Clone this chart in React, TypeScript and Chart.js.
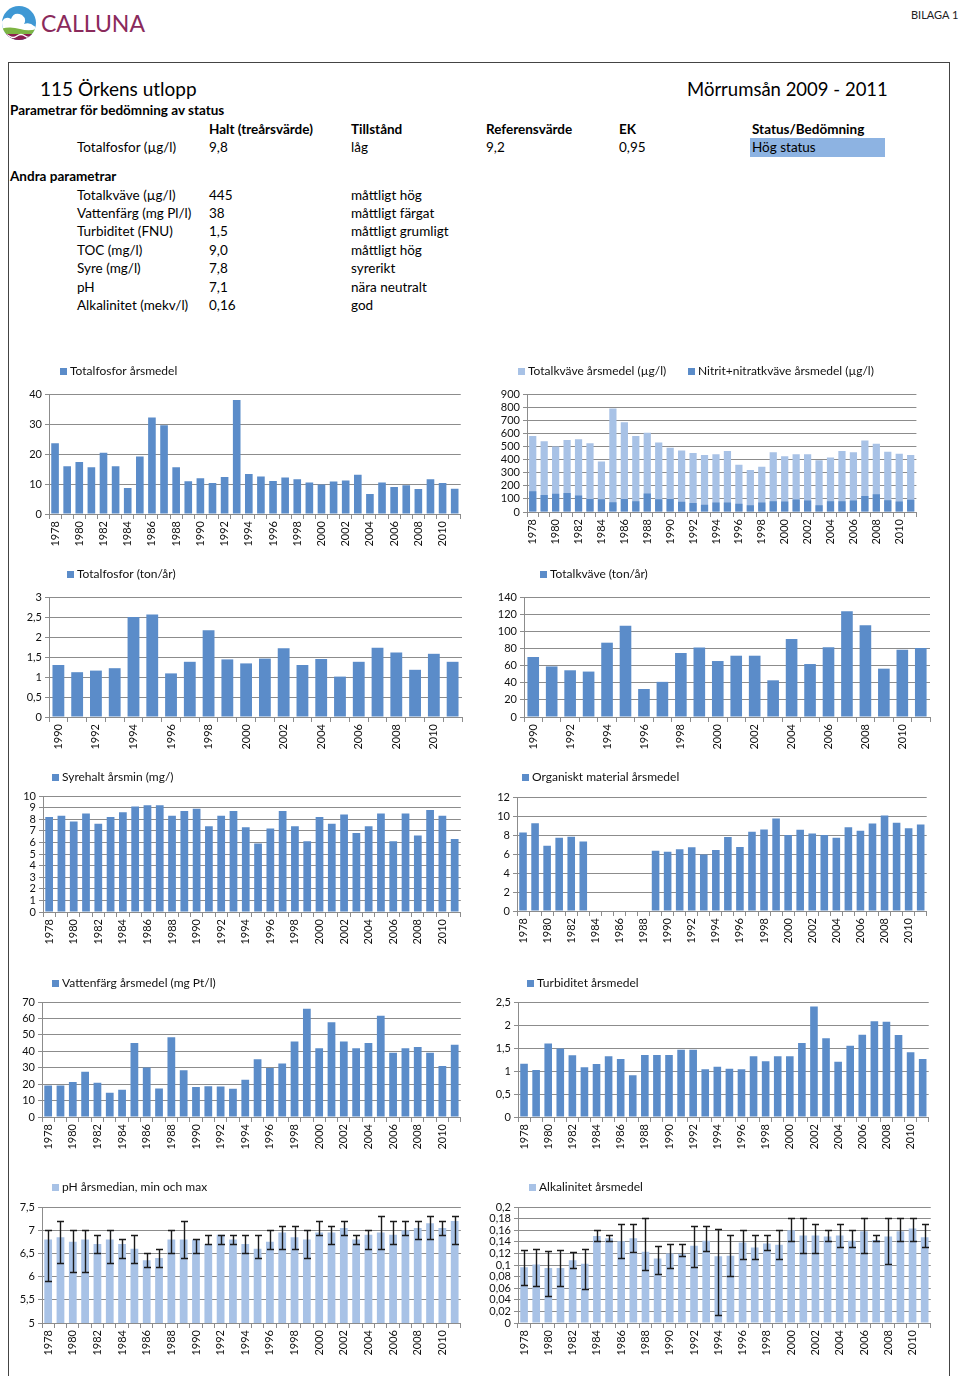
import React, { useEffect, useRef } from "react";
import { Chart, registerables } from "chart.js";
Chart.register(...registerables);

const FONT = "Lato, 'Open Sans', sans-serif";

const years78 = ["1978","1979","1980","1981","1982","1983","1984","1985","1986","1987","1988","1989","1990","1991","1992","1993","1994","1995","1996","1997","1998","1999","2000","2001","2002","2003","2004","2005","2006","2007","2008","2009","2010","2011"];
const years90 = ["1990","1991","1992","1993","1994","1995","1996","1997","1998","1999","2000","2001","2002","2003","2004","2005","2006","2007","2008","2009","2010","2011"];

const totalfosforMedel = [23.6,15.9,17.3,15.6,20.4,15.9,8.7,19.2,32.2,29.6,15.6,10.9,11.9,10.3,12.3,38.0,13.3,12.5,11.0,12.2,11.6,10.5,9.8,10.8,11.2,13.1,6.7,10.5,9.0,9.6,8.3,11.6,10.3,8.4];
const totalkvaveMedel = [580,540,500,550,555,525,385,790,685,580,605,530,490,470,450,435,440,465,360,320,345,455,425,440,440,395,415,465,455,545,520,460,445,435];
const nitritNitrat = [158,130,140,145,125,100,98,75,100,82,142,97,100,78,68,55,72,72,62,52,72,82,80,95,88,52,82,82,88,122,135,90,80,93];
const totalfosforTon = [1.30,1.12,1.16,1.22,2.50,2.56,1.09,1.38,2.17,1.44,1.34,1.46,1.72,1.30,1.45,1.01,1.38,1.73,1.61,1.18,1.58,1.38];
const totalkvaveTon = [70,59,54.5,53,86.7,106.5,32.7,41,74.7,81,65.3,71.5,71.5,42.8,91,61.8,81.3,123.3,107,56.4,78.6,80.5];
const syrehaltMin = [8.2,8.3,7.8,8.5,7.6,8.2,8.6,9.1,9.2,9.2,8.3,8.7,8.9,7.4,8.3,8.7,7.3,5.9,7.2,8.7,7.4,6.1,8.2,7.6,8.4,6.8,7.4,8.5,6.1,8.5,6.6,8.8,8.3,6.3];
const organisktMedel = [8.27,9.24,6.87,7.71,7.81,7.32,null,null,null,null,null,6.35,6.24,6.49,6.70,5.96,6.42,7.78,6.73,8.34,8.58,9.73,7.99,8.55,8.16,7.99,7.71,8.82,8.44,9.21,10.05,9.28,8.72,9.10];
const vattenfargMedel = [19.1,19.1,21.3,27.6,20.9,14.8,16.6,45.0,30.2,17.4,48.5,28.4,18.3,18.7,18.5,17.2,22.7,35.1,29.8,32.5,46.0,65.9,41.8,57.6,46.0,41.8,45.0,61.7,39.1,41.8,42.6,39.1,31.0,44.0];
const turbiditetMedel = [1.16,1.02,1.60,1.49,1.34,1.08,1.15,1.32,1.26,0.91,1.35,1.35,1.35,1.46,1.46,1.04,1.09,1.05,1.04,1.32,1.21,1.32,1.32,1.61,2.40,1.71,1.20,1.55,1.79,2.08,2.07,1.78,1.41,1.26];
const phMedian = [6.8,6.85,6.75,6.8,6.7,6.8,6.7,6.6,6.35,6.4,6.8,6.8,6.8,6.7,6.9,6.8,6.7,6.6,6.75,6.95,6.85,6.8,6.95,6.95,7.05,6.8,6.9,6.95,6.9,7.0,7.05,7.15,7.05,7.2];
const phMin = [5.9,6.3,6.1,6.1,6.5,6.3,6.4,6.3,6.2,6.2,6.5,6.4,6.5,6.7,6.7,6.7,6.5,6.4,6.6,6.6,6.6,6.4,6.9,6.7,6.9,6.7,6.6,6.6,6.7,6.9,6.8,6.8,6.9,6.7];
const phMax = [7.0,7.2,7.0,7.0,6.9,7.0,6.8,6.9,6.5,6.6,7.0,7.2,6.8,6.9,6.9,6.9,6.9,6.9,7.0,7.1,7.1,7.0,7.2,7.1,7.2,6.9,7.0,7.3,7.2,7.2,7.2,7.3,7.2,7.3];
const alkMedel = [0.096,0.101,0.095,0.095,0.108,0.102,0.150,0.146,0.141,0.146,0.123,0.111,0.120,0.119,0.133,0.142,0.115,0.116,0.139,0.130,0.137,0.135,0.160,0.151,0.151,0.149,0.151,0.142,0.158,0.143,0.149,0.158,0.163,0.148];
const alkMin = [0.066,0.063,0.046,0.064,0.095,0.059,0.142,0.142,0.112,0.122,0.092,0.085,0.095,0.115,0.096,0.125,0.014,0.081,0.111,0.111,0.126,0.111,0.141,0.121,0.121,0.141,0.131,0.131,0.121,0.141,0.101,0.141,0.141,0.131];
const alkMax = [0.126,0.127,0.124,0.126,0.123,0.127,0.161,0.152,0.171,0.171,0.181,0.133,0.137,0.137,0.167,0.167,0.162,0.152,0.160,0.152,0.152,0.161,0.181,0.181,0.171,0.161,0.171,0.161,0.181,0.152,0.181,0.181,0.181,0.171];

const ticksTfMedel = [0,10,20,30,40];
const ticksTkMedel = [0,100,200,300,400,500,600,700,800,900];
const ticksTfTon = [0,0.5,1,1.5,2,2.5,3];
const ticksTkTon = [0,20,40,60,80,100,120,140];
const ticksSyre = [0,1,2,3,4,5,6,7,8,9,10];
const ticksOrg = [0,2,4,6,8,10,12];
const ticksVatten = [0,10,20,30,40,50,60,70];
const ticksTurb = [0,0.5,1,1.5,2,2.5];
const ticksPh = [5,5.5,6,6.5,7,7.5];
const ticksAlk = [0,0.02,0.04,0.06,0.08,0.1,0.12,0.14,0.16,0.18,0.2];

const BLUE = "#5b8cc9";
const LIGHT = "#a8c2e6";
const GRID = "#8c8c8c";

const PADL = 46, PADT = 42, PADR = 8, PADB = 48;

const fmt = (v: number) => String(v).replace(".", ",");

const whiskerPlugin = {
  id: "whiskers",
  afterDatasetsDraw(chart: any, _a: any, opts: any) {
    if (!opts || !opts.min) return;
    const meta = chart.getDatasetMeta(0);
    const ys = chart.scales.y;
    const ctx = chart.ctx;
    ctx.save();
    ctx.strokeStyle = "#1a1a1a";
    ctx.lineWidth = 1.4;
    meta.data.forEach((bar: any, i: number) => {
      const lo = opts.min[i], hi = opts.max[i];
      if (lo == null || hi == null) return;
      const x = Math.round(bar.x) + 0.5;
      const y1 = Math.round(ys.getPixelForValue(hi)) + 0.5;
      const y2 = Math.round(ys.getPixelForValue(lo)) + 0.5;
      ctx.beginPath();
      ctx.moveTo(x, y1); ctx.lineTo(x, y2);
      ctx.moveTo(x - 3.5, y1); ctx.lineTo(x + 3.5, y1);
      ctx.moveTo(x - 3.5, y2); ctx.lineTo(x + 3.5, y2);
      ctx.stroke();
    });
    ctx.restore();
  },
};

const boxLegendPlugin = {
  id: "boxLegend",
  afterDraw(chart: any, _a: any, opts: any) {
    const items = (opts && opts.items) || [];
    const ctx = chart.ctx;
    ctx.save();
    ctx.font = `12px ${FONT}`;
    ctx.textBaseline = "middle";
    items.forEach((it: any, i: number) => {
      const ds = chart.data.datasets[i];
      ctx.fillStyle = ds.backgroundColor;
      ctx.fillRect(it.x, Math.round(it.y - 3.5), 7, 7);
      ctx.fillStyle = "#111";
      ctx.fillText(ds.label, it.x + 10, it.y + 0.5);
    });
    ctx.restore();
  },
};

type Spec = {
  plot: [number, number, number, number];
  labels: string[];
  datasets: any[];
  ticks: number[];
  legend: [number, number][];
  whisk?: { min: number[]; max: number[] };
};

function BarChart({ spec }: { spec: Spec }) {
  const ref = useRef<HTMLCanvasElement | null>(null);
  const [x1, y1, x2, y2] = spec.plot;
  const left = x1 - PADL, top = y1 - PADT;
  const width = x2 - x1 + PADL + PADR, height = y2 - y1 + PADT + PADB;
  useEffect(() => {
    if (!ref.current) return;
    const labels = spec.labels;
    const tk = spec.ticks;
    const chart = new Chart(ref.current, {
      type: "bar",
      data: { labels, datasets: spec.datasets },
      plugins: [whiskerPlugin as any, boxLegendPlugin as any],
      options: {
        responsive: false,
        animation: false,
        layout: { padding: { left: 0, top: PADT, right: PADR, bottom: 0 } },
        plugins: {
          legend: { display: false },
          tooltip: { enabled: false },
          boxLegend: { items: spec.legend.map(([lx, ly]) => ({ x: lx - left, y: ly - top })) },
          whiskers: spec.whisk ? { min: spec.whisk.min, max: spec.whisk.max } : {},
        } as any,
        scales: {
          x: {
            grid: { display: true, drawOnChartArea: false, drawTicks: true, tickLength: 5, color: GRID, offset: true },
            border: { display: true, color: GRID },
            ticks: {
              autoSkip: false, maxRotation: 90, minRotation: 90, padding: 2, color: "#111",
              font: { family: FONT, size: 11 },
              callback: (_v: any, i: number) => (i % 2 === 0 ? labels[i] : ""),
            },
            afterFit: (s: any) => { s.height = PADB; },
          },
          y: {
            min: tk[0], max: tk[tk.length - 1],
            grid: { color: GRID, tickLength: 4 },
            border: { display: true, color: GRID },
            ticks: { autoSkip: false, color: "#111", padding: 3, font: { family: FONT, size: 11 }, callback: (v: any) => fmt(v) },
            afterBuildTicks: (s: any) => { s.ticks = tk.map((v) => ({ value: v })); },
            afterFit: (s: any) => { s.width = PADL; },
          },
        },
      } as any,
    });
    return () => chart.destroy();
  }, []);
  return (
    <canvas ref={ref} width={width} height={height}
      style={{ position: "absolute", left, top, width, height }} />
  );
}

const bar = (label: string, data: any[], color: string, extra: any = {}) => ({
  label, data, backgroundColor: color, barPercentage: 0.63, categoryPercentage: 1, borderWidth: 0, ...extra,
});

const specs: Spec[] = [
  { plot: [49, 394, 462, 514], labels: years78, ticks: ticksTfMedel, legend: [[60, 371]],
    datasets: [bar("Totalfosfor årsmedel", totalfosforMedel, BLUE)] },
  { plot: [527, 394, 918, 512], labels: years78, ticks: ticksTkMedel, legend: [[518, 371], [688, 371]],
    datasets: [
      bar("Totalkväve årsmedel (µg/l)", totalkvaveMedel, LIGHT, { grouped: false, order: 2 }),
      bar("Nitrit+nitratkväve årsmedel (µg/l)", nitritNitrat, BLUE, { grouped: false, order: 1 }),
    ] },
  { plot: [49, 597, 462, 717], labels: years90, ticks: ticksTfTon, legend: [[67, 574]],
    datasets: [bar("Totalfosfor (ton/år)", totalfosforTon, BLUE)] },
  { plot: [524, 597, 930, 717], labels: years90, ticks: ticksTkTon, legend: [[540, 574]],
    datasets: [bar("Totalkväve (ton/år)", totalkvaveTon, BLUE)] },
  { plot: [43, 796, 462, 912], labels: years78, ticks: ticksSyre, legend: [[52, 777]],
    datasets: [bar("Syrehalt årsmin (mg/)", syrehaltMin, BLUE)] },
  { plot: [517, 797, 928, 911], labels: years78, ticks: ticksOrg, legend: [[522, 777]],
    datasets: [bar("Organiskt material årsmedel", organisktMedel, BLUE)] },
  { plot: [42, 1002, 462, 1117], labels: years78, ticks: ticksVatten, legend: [[52, 983]],
    datasets: [bar("Vattenfärg årsmedel (mg Pt/l)", vattenfargMedel, BLUE)] },
  { plot: [518, 1002, 930, 1117], labels: years78, ticks: ticksTurb, legend: [[527, 983]],
    datasets: [bar("Turbiditet årsmedel", turbiditetMedel, BLUE)] },
  { plot: [42, 1207, 462, 1323], labels: years78, ticks: ticksPh, legend: [[52, 1187]],
    datasets: [bar("pH årsmedian, min och max", phMedian, LIGHT)], whisk: { min: phMin, max: phMax } },
  { plot: [518, 1207, 932, 1323], labels: years78, ticks: ticksAlk, legend: [[529, 1187]],
    datasets: [bar("Alkalinitet årsmedel", alkMedel, LIGHT)], whisk: { min: alkMin, max: alkMax } },
];

function T({ x, y, children, bold, size = 13.5, color = "#000" }: any) {
  return (
    <div style={{ position: "absolute", left: x, top: y - 10, height: 20, lineHeight: "20px",
      fontSize: size, fontWeight: bold ? 700 : 400, whiteSpace: "nowrap", color, fontFamily: FONT }}>
      {children}
    </div>
  );
}

const otherParams: [string, string, string][] = [
  ["Totalkväve (µg/l)", "445", "måttligt hög"],
  ["Vattenfärg (mg Pl/l)", "38", "måttligt färgat"],
  ["Turbiditet (FNU)", "1,5", "måttligt grumligt"],
  ["TOC (mg/l)", "9,0", "måttligt hög"],
  ["Syre (mg/l)", "7,8", "syrerikt"],
  ["pH", "7,1", "nära neutralt"],
  ["Alkalinitet (mekv/l)", "0,16", "god"],
];
const otherRowsY = [195, 213, 231, 250, 268, 287, 305];

function Logo() {
  return (
    <svg width="40" height="44" style={{ position: "absolute", left: 0, top: 2 }}>
      <defs>
        <clipPath id="lc"><circle cx="19" cy="21" r="17" /></clipPath>
      </defs>
      <g clipPath="url(#lc)">
        <rect x="0" y="0" width="40" height="44" fill="#3f98d4" />
        <path d="M0 23 Q4 13 11 17 Q14 9 22 13 Q27 17 24 22 Q30 20 34 24 L38 26 L38 30 L0 30 Z" fill="#ffffff" />
        <path d="M0 27 Q10 24 20 27 Q30 30 40 26 L40 33 L0 33 Z" fill="#7db443" />
        <rect x="0" y="32" width="40" height="12" fill="#8b1f50" />
        <path d="M1 34 Q5 31 9 34 T17 34 T25 34 T33 34 T41 34" stroke="#ffffff" fill="none" strokeWidth="1.3" />
      </g>
    </svg>
  );
}

export default function App() {
  return (
    <div style={{ position: "absolute", left: 0, top: 0, width: 960, height: 1376, overflow: "hidden", background: "#fff", fontFamily: FONT }}>
      <Logo />
      <div style={{ position: "absolute", left: 41, top: 8, fontSize: 23, lineHeight: "30px", color: "#8a2a5c", fontFamily: FONT }}>CALLUNA</div>
      <div style={{ position: "absolute", left: 911, top: 7, fontSize: 11, lineHeight: "16px", color: "#222", fontFamily: FONT }}>BILAGA 1</div>
      <div style={{ position: "absolute", left: 8, top: 62, width: 942, height: 1400, border: "1px solid #444", boxSizing: "border-box" }} />

      <T x={40} y={89} size={19}>115 Örkens utlopp</T>
      <T x={687} y={89} size={18.5}>Mörrumsån 2009 - 2011</T>
      <T x={10} y={110} bold size={13.5}>Parametrar för bedömning av status</T>
      <T x={209} y={129} bold size={13.5}>Halt (treårsvärde)</T>
      <T x={351} y={129} bold size={13.5}>Tillstånd</T>
      <T x={486} y={129} bold size={13.5}>Referensvärde</T>
      <T x={619} y={129} bold size={13.5}>EK</T>
      <T x={752} y={129} bold size={13.5}>Status/Bedömning</T>
      <T x={77} y={147}>Totalfosfor (µg/l)</T>
      <T x={209} y={147}>9,8</T>
      <T x={351} y={147}>låg</T>
      <T x={486} y={147}>9,2</T>
      <T x={619} y={147}>0,95</T>
      <div style={{ position: "absolute", left: 750, top: 138, width: 135, height: 19, background: "#8db3e2" }} />
      <T x={752} y={147}>Hög status</T>
      <T x={10} y={176} bold size={13.5}>Andra parametrar</T>
      {otherParams.map((r, i) => (
        <React.Fragment key={i}>
          <T x={77} y={otherRowsY[i]}>{r[0]}</T>
          <T x={209} y={otherRowsY[i]}>{r[1]}</T>
          <T x={351} y={otherRowsY[i]}>{r[2]}</T>
        </React.Fragment>
      ))}

      {specs.map((s, i) => <BarChart key={i} spec={s} />)}
    </div>
  );
}
